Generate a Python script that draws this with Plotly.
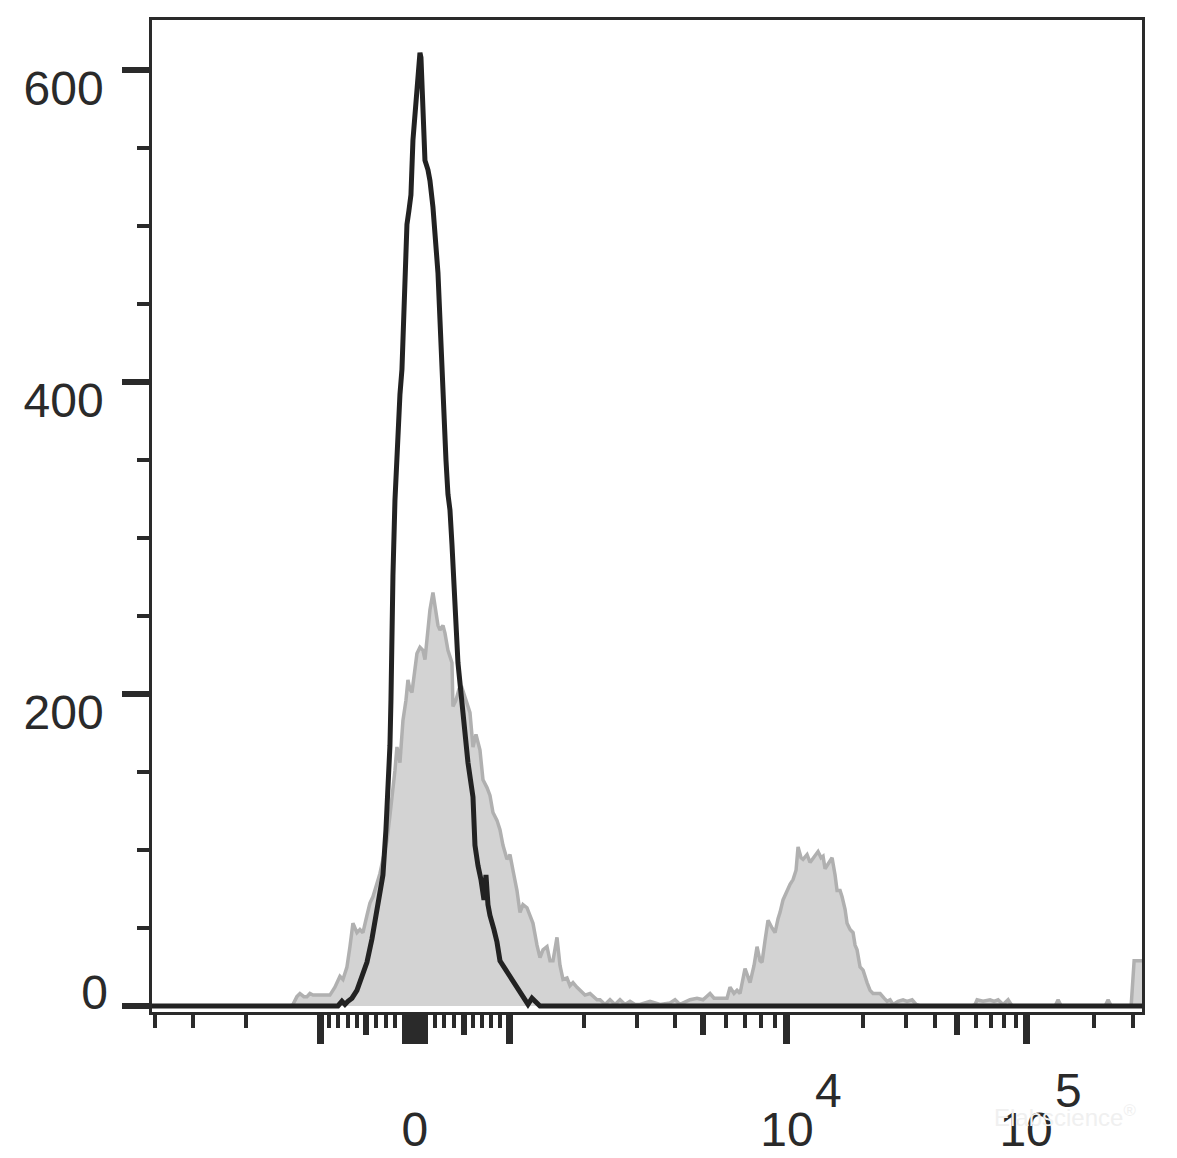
import numpy as np
import plotly.graph_objects as go

# ---------------- display transform (logicle-like biexponential) ----------------
CH_PER_DECADE = 220      # display channels per decade
LOGICLE_P = 5.0
LOGICLE_K = 162.4


def to_channel(values):
    v = np.asarray(values, dtype=float)
    z = np.linspace(0, 4, 40001)
    s = LOGICLE_K * (10 ** z - LOGICLE_P ** 2 * 10 ** (-z / LOGICLE_P) + LOGICLE_P ** 2 - 1)
    return np.sign(v) * np.interp(np.abs(v), s, z) * CH_PER_DECADE


# ---------------- data (display channel, 0 = value 0) ----------------
black_channel = [-265, -77, -73, -70, -67, -63, -58, -53, -48, -43, -38, -35, -32, -29, -27, -26,
                 -25, -24, -23, -22, -20, -17, -15, -13, -11, -9, -8, -6, -4, -2, 0, 2, 4, 5, 6,
                 8, 10, 13, 15, 18, 21, 23, 25, 27, 29, 31, 33, 35, 37, 40, 43, 48, 53, 58, 60,
                 63, 66, 69, 71, 73, 75, 79, 82, 85, 90, 95, 100, 105, 110, 113, 117, 121, 125, 730]
black_count = [0, 0, 3, 1, 3, 5, 10, 18, 28, 43, 60, 71, 84, 113, 138, 158,
               167, 196, 247, 276, 324, 369, 392, 408, 453, 485, 501, 510, 520, 555, 574, 594, 610, 611, 608,
               574, 542, 536, 529, 512, 488, 470, 440, 406, 369, 350, 328, 318, 296, 260, 220, 188, 156, 134, 103,
               90, 81, 68, 84, 65, 58, 49, 41, 29, 24, 20, 15, 10, 4, 1, 5, 3, 0, 0]

gray_channel = [-265, -125, -122, -118, -115, -111, -108, -105, -102, -95, -88, -85, -80, -77, -75, -72,
                -68, -65, -62, -60, -58, -55, -52, -48, -45, -42, -38, -35, -31, -28, -25, -22,
                -20, -18, -15, -12, -9, -7, -5, -3, 0, 2, 5, 8, 10, 12, 15, 18,
                20, 23, 25, 28, 30, 33, 37, 38, 41, 44, 47, 51, 55, 58, 61, 65,
                68, 72, 75, 78, 82, 85, 88, 92, 95, 98, 102, 105, 108, 112, 115, 118,
                122, 125, 128, 132, 135, 138, 142, 145, 148, 152, 155, 158, 162, 165, 170, 175,
                178, 182, 185, 190, 195, 200, 205, 210, 215, 220, 225, 235, 245, 255, 260, 265,
                275, 282, 288, 295, 299, 305, 312, 315, 319, 322, 325, 330, 333, 335, 339, 342,
                345, 347, 350, 353, 357, 360, 363, 365, 368, 372, 375, 378, 381, 383, 386, 388,
                392, 395, 397, 400, 403, 406, 408, 410, 412, 415, 417, 420, 422, 425, 427, 430,
                432, 435, 438, 440, 442, 445, 448, 452, 455, 458, 462, 465, 469, 472, 475, 478,
                483, 488, 492, 497, 501, 505, 557, 560, 562, 568, 575, 579, 583, 588, 593, 597,
                640, 643, 646, 690, 693, 696, 716, 719, 725, 730]
gray_count = [0, 0, 1, 6, 8, 6, 6, 8, 7, 7, 7, 7, 12, 17, 19, 17,
              25, 38, 53, 50, 47, 49, 47, 58, 66, 70, 78, 85, 97, 106, 122, 137,
              151, 166, 156, 183, 196, 209, 203, 201, 219, 226, 230, 228, 222, 235, 254, 265,
              257, 244, 241, 244, 239, 228, 220, 192, 196, 203, 204, 196, 188, 166, 174, 164,
              145, 140, 135, 124, 119, 113, 103, 94, 97, 87, 74, 60, 65, 63, 58, 53,
              39, 31, 36, 38, 29, 29, 44, 26, 17, 18, 13, 15, 12, 10, 7, 8,
              6, 4, 4, 1, 4, 1, 4, 1, 3, 1, 1, 3, 1, 2, 4, 1,
              4, 5, 4, 8, 5, 5, 5, 12, 8, 10, 8, 24, 18, 15, 26, 38,
              29, 28, 42, 55, 50, 47, 56, 60, 68, 74, 78, 81, 87, 102, 95, 94,
              97, 92, 94, 97, 99, 95, 96, 88, 90, 94, 95, 84, 74, 74, 70, 62,
              53, 49, 47, 39, 36, 25, 23, 15, 10, 8, 8, 8, 5, 3, 4, 1,
              3, 4, 3, 4, 1, 0, 0, 1, 4, 3, 4, 3, 4, 1, 4, 0,
              0, 4, 0, 0, 4, 0, 0, 29, 29, 29]

assert len(black_channel) == len(black_count)
assert len(gray_channel) == len(gray_count)

# ---------------- axis definitions ----------------
x_min_value, x_max_value = -4100, 330000
y_min, y_max = -3.85, 632

y_major_ticks = [0, 200, 400, 600]
y_minor_ticks = [50, 100, 150, 250, 300, 350, 450, 500, 550]

x_long_ticks = [-1000, 1000, 10000, 100000] + list(range(-100, 101, 10))
x_labels = {0: "0", 10000: "10", 100000: "10"}
x_exponents = {10000: "4", 100000: "5"}
x_medium_ticks = [-500, 500, 5000, 50000]
x_short_ticks = [-4000, -3000, -2000, -900, -800, -700, -600, -400, -300, -200,
                 200, 300, 400, 600, 700, 800, 900,
                 2000, 3000, 4000, 6000, 7000, 8000, 9000,
                 20000, 30000, 40000, 60000, 70000, 80000, 90000,
                 200000, 300000]

INK = "#2a2a2a"
FONT = "Liberation Sans, Arial, sans-serif"
LABEL_SIZE = 48

x_range = list(to_channel([x_min_value, x_max_value]))

fig = go.Figure()
fig.add_trace(go.Scatter(
    x=gray_channel, y=gray_count, mode="lines", fill="tozeroy",
    fillcolor="#d3d3d3", line=dict(color="#b0b0b0", width=3.5),
    showlegend=False, hoverinfo="skip"))
fig.add_trace(go.Scatter(
    x=black_channel, y=black_count, mode="lines",
    line=dict(color="#222222", width=5),
    showlegend=False, hoverinfo="skip"))
# empty trace so the overlay axes (extra tick sets) get drawn
fig.add_trace(go.Scatter(x=[], y=[], xaxis="x2", yaxis="y2",
                         showlegend=False, hoverinfo="skip"))

# the page body adds an 8px margin, so the figure is 8px smaller on each axis
fig.update_layout(
    width=1169, height=1150, autosize=False,
    margin=dict(l=144, r=35, t=12, b=146),
    paper_bgcolor="white", plot_bgcolor="white",
    font=dict(family=FONT, size=LABEL_SIZE, color=INK),
    xaxis=dict(
        range=x_range, showgrid=False, zeroline=False, automargin=False,
        showline=True, mirror=True, linecolor=INK, linewidth=2.5,
        tickmode="array", tickvals=list(to_channel(x_long_ticks)),
        ticktext=[x_labels.get(v, "") for v in x_long_ticks],
        ticks="outside", ticklen=29, tickwidth=7, tickcolor=INK,
        ticklabelstandoff=45,
        tickfont=dict(family=FONT, size=LABEL_SIZE, color=INK),
        minor=dict(tickmode="array", tickvals=list(to_channel(x_short_ticks)),
                   ticks="outside", ticklen=13, tickwidth=4, tickcolor=INK, showgrid=False),
    ),
    xaxis2=dict(
        range=x_range, overlaying="x", anchor="y", side="bottom", automargin=False,
        showgrid=False, zeroline=False, showline=False, showticklabels=False,
        tickmode="array", tickvals=list(to_channel(x_medium_ticks)),
        ticks="outside", ticklen=22, tickwidth=6, tickcolor=INK,
    ),
    yaxis=dict(
        range=[y_min, y_max], showgrid=False, zeroline=False, automargin=False,
        showline=True, mirror=True, linecolor=INK, linewidth=2.5,
        tickmode="array", tickvals=y_major_ticks,
        ticktext=["" if v == 0 else str(v) for v in y_major_ticks],
        ticks="outside", ticklen=27, tickwidth=6, tickcolor=INK,
        ticklabelshift=18, ticklabelstandoff=9,
        tickfont=dict(family=FONT, size=LABEL_SIZE, color=INK),
        minor=dict(tickmode="array", tickvals=y_minor_ticks,
                   ticks="outside", ticklen=12, tickwidth=4, tickcolor=INK, showgrid=False),
    ),
    yaxis2=dict(
        range=[y_min, y_max], overlaying="y", anchor="x", side="left", automargin=False,
        showgrid=False, zeroline=False, showline=False,
        tickmode="array", tickvals=[0], ticktext=["0"], ticks="",
        ticklabelshift=-14, ticklabelstandoff=43,
        tickfont=dict(family=FONT, size=LABEL_SIZE, color=INK),
    ),
)

for val, txt in x_exponents.items():
    fig.add_annotation(
        x=float(to_channel([val])[0]), xref="x", y=0, yref="paper",
        xshift=42, yshift=-78, text=txt, showarrow=False,
        xanchor="center", yanchor="middle",
        font=dict(family=FONT, size=LABEL_SIZE, color=INK))

fig.add_annotation(
    x=1.0, xref="paper", y=0, yref="paper", xanchor="right", yanchor="middle",
    xshift=-4, yshift=-104, text="Elabscience<sup>®</sup>", showarrow=False,
    font=dict(family=FONT, size=24, color="#f0f0f0"))

fig.write_html("out.html")
